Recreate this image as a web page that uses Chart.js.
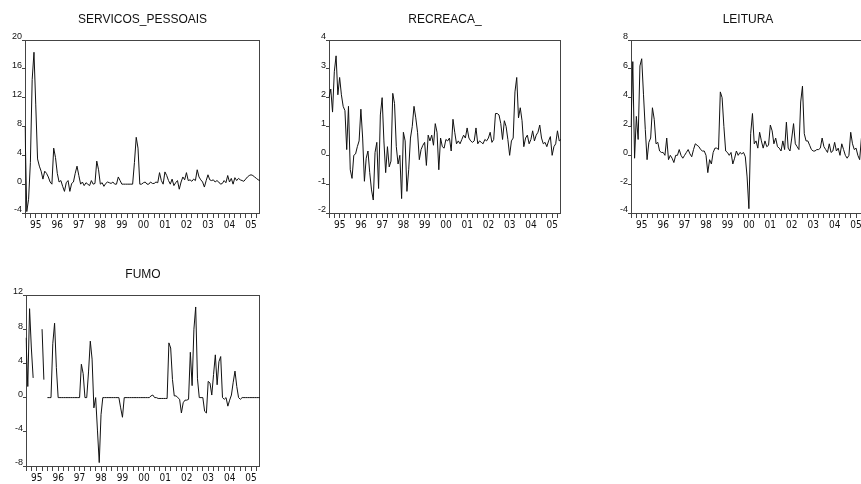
<!DOCTYPE html>
<html>
<head>
<meta charset="utf-8">
<script src="https://cdn.jsdelivr.net/npm/chart.js@4.4.1/dist/chart.umd.min.js"></script>
<style>
  html, body { margin: 0; padding: 0; background: #fff; overflow: hidden; }
  body { width: 861px; height: 484px; position: relative; }
  canvas { position: absolute; }
</style>
</head>
<body>
<canvas id="c1" width="290" height="240" style="left:0;top:0"></canvas>
<canvas id="c2" width="290" height="240" style="left:290px;top:0"></canvas>
<canvas id="c3" width="300" height="240" style="left:580px;top:0"></canvas>
<canvas id="c4" width="290" height="244" style="left:0;top:240px"></canvas>
<script>
// monthly data 1995M01 - 2005M12, one row per year
const yearLabels = ["95", "96", "97", "98", "99", "00", "01", "02", "03", "04", "05"];
const monthNames = ["01", "02", "03", "04", "05", "06", "07", "08", "09", "10", "11", "12"];
const categories = yearLabels.flatMap(y => monthNames.map(m => y + "M" + m));

const servicos = [
  8, -3.8, -2.1, 3, 14.5, 18.3, 11, 3.5, 2.5, 1.8, 0.7, 1.8,
  1.5, 1, 0.3, 0, 5, 3.7, 1.5, 0.3, 0.5, -0.3, -1, 0.2,
  0.5, -1, 0.1, 0.3, 1.5, 2.5, 1.2, 0, 0.3, -0.2, 0.2, 0,
  -0.2, 0.5, 0, 0.1, 3.2, 2, 0, 0.2, -0.3, 0.1, 0.3, 0.2,
  0.1, 0.3, 0, 0, 1, 0.5, 0, 0, 0, 0, 0, 0,
  0, 3, 6.5, 5, 0, 0, 0.2, 0.3, 0, 0, 0.3, 0.1,
  0.1, 0.3, 0.2, 1.6, 0.5, 0, 1.7, 1.2, 0.5, 0, 0.7, -0.2,
  0.2, 0.5, -0.7, 0.3, 1, 0.6, 1.6, 0.5, 0.6, 0.4, 0.7, 0.5,
  2, 1, 0.6, 0.3, -0.4, 0.5, 1.3, 0.6, 0.5, 0.6, 0.3, 0.5,
  0.3, 0, 0.1, 0.5, 0.2, 1.2, 0.3, 0.8, 0, 0.9, 0.5, 0.8,
  0.6, 0.5, 0.4, 0.7, 1, 1.2, 1.3, 1.2, 1, 0.8, 0.6, 0.5
];

const recreaca = [
  2.0, 2.3, 1.5, 2.9, 3.45, 2.1, 2.7, 2.1, 1.7, 1.55, 0.2, 1.7,
  -0.5, -0.8, 0.0, 0.05, 0.3, 0.5, 1.6, 0.6, -0.9, -0.1, 0.15, -0.6,
  -1.2, -1.55, 0.1, 0.45, -1.15, 1.4, 2.0, 0.5, -0.6, 0.3, -0.4, -0.2,
  2.15, 1.8, 0.3, -0.3, 0.0, -1.5, 0.8, 0.5, -1.25, -0.5, 0.6, 1.0,
  1.7, 1.3, 0.8, -0.15, 0.2, 0.35, 0.45, -0.35, 0.7, 0.5, 0.7, 0.35,
  1.1, 0.8, -0.5, 0.6, 0.3, 0.25, 0.55, 0.5, 0.6, 0.15, 1.25, 0.8,
  0.4, 0.5, 0.4, 0.55, 0.7, 0.6, 0.95, 0.6, 0.5, 0.45, 0.5, 0.95,
  0.4, 0.5, 0.45, 0.4, 0.55, 0.5, 0.6, 0.8, 0.45, 0.55, 1.45, 1.45,
  1.4, 1.1, 0.55, 1.2, 1.0, 0.55, 0.0, 0.5, 0.6, 2.2, 2.7, 1.3,
  1.65, 1.2, 0.3, 0.6, 0.7, 0.4, 0.55, 0.85, 0.5, 0.7, 0.8, 1.05,
  0.6, 0.4, 0.45, 0.3, 0.5, 0.65, 0.0, 0.3, 0.4, 0.85, 0.5, 0.55
];

const leitura = [
  2.0, 6.5, -0.2, 2.7, 1.1, 6.2, 6.7, 4.2, 1.8, -0.3, 0.9, 1.2,
  3.3, 2.5, 0.8, 0.9, 0.3, 0.2, 0.2, 0.0, 1.2, -0.3, 0.0, -0.2,
  -0.5, 0.0, 0.0, 0.4, 0.0, -0.2, 0.0, 0.2, 0.4, 0.1, -0.1, 0.4,
  0.8, 0.7, 0.6, 0.4, 0.3, 0.3, 0.0, -1.2, -0.3, -0.6, 0.2, 0.5,
  0.5, 0.4, 4.4, 4.0, 2.0, 0.3, 0.2, 0.0, 0.2, -0.6, -0.2, 0.3,
  0.0, 0.2, 0.1, 0.2, -0.1, -1.5, -3.7, 1.5, 2.9, 0.8, 1.0, 0.5,
  1.6, 1.0, 0.5, 1.0, 0.6, 0.7, 2.1, 1.7, 0.8, 1.2, 0.6, 0.5,
  0.3, 1.0, 0.4, 2.3, 0.5, 0.3, 1.2, 2.2, 0.8, 0.6, 0.4, 3.7,
  4.8, 1.5, 1.0, 1.0, 0.7, 0.4, 0.3, 0.3, 0.4, 0.4, 0.5, 1.2,
  0.6, 0.4, 0.2, 0.8, 0.2, 0.3, 0.9, 0.3, 0.5, 0.0, 0.8, 0.4,
  0.0, -0.2, 0.0, 1.6, 0.8, 0.4, 0.5, 0.0, -0.3, 1.2, 0.6, 0.4
];

// null = missing observation (gaps in the line)
const fumo = [
  7.0, 1.3, 10.4, 5.8, 2.3, null, null, null, null, 8.0, 2.1, null,
  0, 0, 0, 6.3, 8.7, 3.5, 0, 0, 0, 0, 0, 0,
  0, 0, 0, 0, 0, 0, 0, 3.9, 2.8, 0, 0, 3.0,
  6.6, 4.5, -1.2, 0, -3.8, -7.6, -2.0, 0, 0, 0, 0, 0,
  0, 0, 0, 0, 0, -1.2, -2.3, 0, 0, 0, 0, 0,
  0, 0, 0, 0, 0, 0, 0, 0, 0, 0, 0.2, 0.3,
  0, 0, -0.1, -0.1, -0.1, -0.1, -0.1, -0.1, 6.4, 5.8, 2.1, 0.2,
  0.2, 0, -0.2, -1.8, -0.6, -0.3, -0.3, -0.2, 5.3, 1.4, 8.0, 10.6,
  2.2, 0, 0, 0, -1.6, -1.8, 1.9, 1.7, 0.3, 2.7, 5.0, 1.5,
  4.2, 4.8, 0, -0.2, 0, -1.0, -0.3, 0.3, 1.8, 3.1, 1.3, 0,
  -0.2, 0, 0, 0, 0, 0, 0, 0, 0, 0, 0, 0
];

const axisColor = "#444";
const textColor = "#111";

// title centred over the plot, and a box round the plot area
const panelTitle = {
  id: "panelTitle",
  afterDraw(chart, args, opts) {
    const { ctx, chartArea } = chart;
    ctx.save();
    ctx.font = '12px "Liberation Sans", Arial, sans-serif';
    ctx.fillStyle = textColor;
    ctx.textAlign = "center";
    ctx.textBaseline = "middle";
    ctx.fillText(opts.text, (chartArea.left + chartArea.right) / 2, chartArea.top - opts.gap);
    ctx.restore();
  }
};

const frame = {
  id: "frame",
  beforeDatasetsDraw(chart) {
    const { ctx, chartArea: a } = chart;
    ctx.save();
    ctx.strokeStyle = axisColor;
    ctx.lineWidth = 1;
    ctx.strokeRect(Math.round(a.left) + 0.5, Math.round(a.top) + 0.5,
      Math.round(a.right - a.left) - 1, Math.round(a.bottom - a.top));
    ctx.restore();
  }
};

function makePanel(id, title, values, yMin, yMax, step, box, titleGap) {
  const canvas = document.getElementById(id);
  const W = canvas.width, H = canvas.height;
  new Chart(canvas, {
    type: "line",
    data: {
      labels: categories,
      datasets: [{
        data: values,
        borderColor: "#111",
        borderWidth: 1,
        pointRadius: 0,
        tension: 0,
        spanGaps: false
      }]
    },
    options: {
      responsive: false,
      animation: false,
      layout: { padding: { top: box.top, right: W - box.right, left: 0, bottom: 0 } },
      plugins: {
        legend: { display: false },
        tooltip: { enabled: false },
        panelTitle: { text: title, gap: titleGap }
      },
      scales: {
        x: {
          offset: false,
          border: { display: false },
          grid: {
            drawOnChartArea: false,
            tickLength: 5,
            tickColor: ctx => (ctx.index % 3 === 0 ? axisColor : "rgba(0,0,0,0)")
          },
          ticks: {
            autoSkip: false,
            maxRotation: 0,
            padding: 1,
            color: textColor,
            font: { family: '"Liberation Sans Narrow", "DejaVu Sans Condensed", sans-serif', size: 10 },
            callback: (v, i) => (i % 12 === 6 ? yearLabels[Math.floor(i / 12)] : "")
          },
          afterFit: s => { s.height = H - box.bottom; }
        },
        y: {
          min: yMin,
          max: yMax,
          border: { display: false },
          grid: { drawOnChartArea: false, tickLength: 3, tickColor: axisColor },
          ticks: {
            stepSize: step,
            padding: 0,
            labelOffset: -3,
            color: textColor,
            font: { family: '"Liberation Sans", Arial, sans-serif', size: 9 }
          },
          afterFit: s => { s.width = box.left; }
        }
      }
    },
    plugins: [panelTitle, frame]
  });
}

makePanel("c1", "SERVICOS_PESSOAIS", servicos, -4, 20, 4, { left: 25, right: 260, top: 40, bottom: 213 }, 20);
makePanel("c2", "RECREACA_", recreaca, -2, 4, 1, { left: 39, right: 271, top: 40, bottom: 213 }, 20);
makePanel("c3", "LEITURA", leitura, -4, 8, 2, { left: 51, right: 285, top: 40, bottom: 213 }, 20);
makePanel("c4", "FUMO", fumo, -8, 12, 4, { left: 26, right: 260, top: 55, bottom: 226 }, 20);
</script>
</body>
</html>
